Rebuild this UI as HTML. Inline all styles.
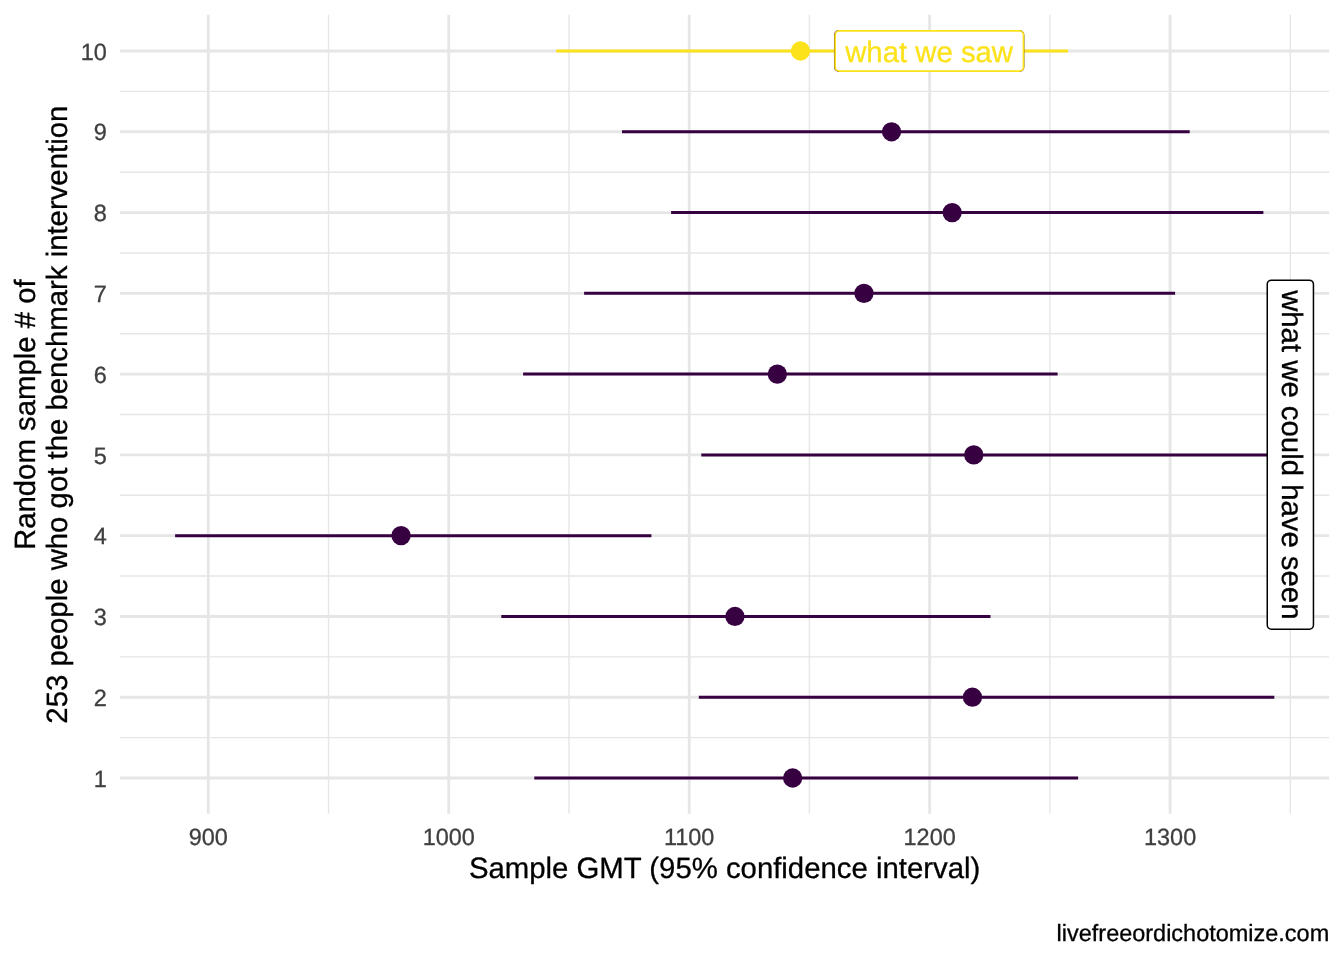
<!DOCTYPE html>
<html lang="en"><head><meta charset="utf-8"><title>Sample GMT</title>
<style>html,body{margin:0;padding:0;background:#fff}svg{display:block}text{font-family:"Liberation Sans",Arial,Helvetica,sans-serif;text-rendering:geometricPrecision}</style></head><body>
<svg width="1344" height="960" viewBox="0 0 1344 960">
<rect width="1344" height="960" fill="#fff"/>
<g stroke="#E6E6E6" fill="none">
<line x1="120.0" x2="1329.2" y1="737.61" y2="737.61" stroke-width="1.42"/>
<line x1="120.0" x2="1329.2" y1="656.84" y2="656.84" stroke-width="1.42"/>
<line x1="120.0" x2="1329.2" y1="576.06" y2="576.06" stroke-width="1.42"/>
<line x1="120.0" x2="1329.2" y1="495.28" y2="495.28" stroke-width="1.42"/>
<line x1="120.0" x2="1329.2" y1="414.50" y2="414.50" stroke-width="1.42"/>
<line x1="120.0" x2="1329.2" y1="333.72" y2="333.72" stroke-width="1.42"/>
<line x1="120.0" x2="1329.2" y1="252.95" y2="252.95" stroke-width="1.42"/>
<line x1="120.0" x2="1329.2" y1="172.17" y2="172.17" stroke-width="1.42"/>
<line x1="120.0" x2="1329.2" y1="91.39" y2="91.39" stroke-width="1.42"/>
<line x1="328.53" x2="328.53" y1="14.8" y2="813.7" stroke-width="1.42"/>
<line x1="568.98" x2="568.98" y1="14.8" y2="813.7" stroke-width="1.42"/>
<line x1="809.42" x2="809.42" y1="14.8" y2="813.7" stroke-width="1.42"/>
<line x1="1049.88" x2="1049.88" y1="14.8" y2="813.7" stroke-width="1.42"/>
<line x1="1290.33" x2="1290.33" y1="14.8" y2="813.7" stroke-width="1.42"/>
<line x1="120.0" x2="1329.2" y1="778.00" y2="778.00" stroke-width="2.85"/>
<line x1="120.0" x2="1329.2" y1="697.22" y2="697.22" stroke-width="2.85"/>
<line x1="120.0" x2="1329.2" y1="616.45" y2="616.45" stroke-width="2.85"/>
<line x1="120.0" x2="1329.2" y1="535.67" y2="535.67" stroke-width="2.85"/>
<line x1="120.0" x2="1329.2" y1="454.89" y2="454.89" stroke-width="2.85"/>
<line x1="120.0" x2="1329.2" y1="374.11" y2="374.11" stroke-width="2.85"/>
<line x1="120.0" x2="1329.2" y1="293.33" y2="293.33" stroke-width="2.85"/>
<line x1="120.0" x2="1329.2" y1="212.56" y2="212.56" stroke-width="2.85"/>
<line x1="120.0" x2="1329.2" y1="131.78" y2="131.78" stroke-width="2.85"/>
<line x1="120.0" x2="1329.2" y1="51.00" y2="51.00" stroke-width="2.85"/>
<line x1="208.30" x2="208.30" y1="14.8" y2="813.7" stroke-width="2.85"/>
<line x1="448.75" x2="448.75" y1="14.8" y2="813.7" stroke-width="2.85"/>
<line x1="689.20" x2="689.20" y1="14.8" y2="813.7" stroke-width="2.85"/>
<line x1="929.65" x2="929.65" y1="14.8" y2="813.7" stroke-width="2.85"/>
<line x1="1170.10" x2="1170.10" y1="14.8" y2="813.7" stroke-width="2.85"/>
</g>
<line x1="534.3" x2="1078.1" y1="778.00" y2="778.00" stroke="#360041" stroke-width="3"/>
<circle cx="792.65" cy="778.00" r="9.65" fill="#360041"/>
<line x1="698.8" x2="1274.3" y1="697.22" y2="697.22" stroke="#360041" stroke-width="3"/>
<circle cx="972.45" cy="697.22" r="9.65" fill="#360041"/>
<line x1="501.3" x2="990.5" y1="616.45" y2="616.45" stroke="#360041" stroke-width="3"/>
<circle cx="734.95" cy="616.45" r="9.65" fill="#360041"/>
<line x1="175.1" x2="651.4" y1="535.67" y2="535.67" stroke="#360041" stroke-width="3"/>
<circle cx="401.05" cy="535.67" r="9.65" fill="#360041"/>
<line x1="701.3" x2="1273.8" y1="454.89" y2="454.89" stroke="#360041" stroke-width="3"/>
<circle cx="973.75" cy="454.89" r="9.65" fill="#360041"/>
<line x1="523.1" x2="1057.6" y1="374.11" y2="374.11" stroke="#360041" stroke-width="3"/>
<circle cx="777.35" cy="374.11" r="9.65" fill="#360041"/>
<line x1="584.1" x2="1175.1" y1="293.33" y2="293.33" stroke="#360041" stroke-width="3"/>
<circle cx="863.95" cy="293.33" r="9.65" fill="#360041"/>
<line x1="671.1" x2="1263.4" y1="212.56" y2="212.56" stroke="#360041" stroke-width="3"/>
<circle cx="952.15" cy="212.56" r="9.65" fill="#360041"/>
<line x1="622.0" x2="1189.7" y1="131.78" y2="131.78" stroke="#360041" stroke-width="3"/>
<circle cx="891.55" cy="131.78" r="9.65" fill="#360041"/>
<line x1="556.3" x2="1067.9" y1="51.00" y2="51.00" stroke="#FCE21B" stroke-width="3"/>
<circle cx="800.45" cy="51.00" r="9.65" fill="#FCE21B"/>
<rect x="834.85" y="30.8" width="188.65" height="40.3" rx="4.2" fill="#fff" stroke="#360041" stroke-width="1.75"/>
<rect x="835.15" y="30.8" width="188.35" height="40.3" rx="4.2" fill="#fff" stroke="#FCE21B" stroke-width="1.75"/>
<text x="929.1" y="61.8" font-size="29.33" fill="#FCE21B" stroke="#FCE21B" stroke-width="0.3" text-anchor="middle">what we saw</text>
<rect x="1267.25" y="280.15" width="46.2" height="349.1" rx="4.2" fill="#fff" stroke="#000" stroke-width="1.5"/>
<text transform="translate(1282.3,454.8) rotate(90)" font-size="29.33" fill="#000" stroke="#000" stroke-width="0.3" text-anchor="middle">what we could have seen</text>
<g font-size="23.47" fill="#3F3F3F" stroke="#3F3F3F" stroke-width="0.3">
<text x="106.9" y="786.70" text-anchor="end">1</text>
<text x="106.9" y="705.92" text-anchor="end">2</text>
<text x="106.9" y="625.15" text-anchor="end">3</text>
<text x="106.9" y="544.37" text-anchor="end">4</text>
<text x="106.9" y="463.59" text-anchor="end">5</text>
<text x="106.9" y="382.81" text-anchor="end">6</text>
<text x="106.9" y="302.03" text-anchor="end">7</text>
<text x="106.9" y="221.26" text-anchor="end">8</text>
<text x="106.9" y="140.48" text-anchor="end">9</text>
<text x="106.9" y="59.70" text-anchor="end">10</text>
<text x="208.30" y="845.2" text-anchor="middle">900</text>
<text x="448.75" y="845.2" text-anchor="middle">1000</text>
<text x="689.20" y="845.2" text-anchor="middle">1100</text>
<text x="929.65" y="845.2" text-anchor="middle">1200</text>
<text x="1170.10" y="845.2" text-anchor="middle">1300</text>
</g>
<text x="724.6" y="877.7" font-size="29.33" fill="#000" stroke="#000" stroke-width="0.3" text-anchor="middle">Sample GMT (95% confidence interval)</text>
<text x="1329.2" y="941.1" font-size="23.47" fill="#000" stroke="#000" stroke-width="0.3" text-anchor="end">livefreeordichotomize.com</text>
<text transform="translate(35.3,414.7) rotate(-90)" font-size="29.33" fill="#000" stroke="#000" stroke-width="0.3" text-anchor="middle">Random sample # of</text>
<text transform="translate(67.0,414.7) rotate(-90)" font-size="29.33" fill="#000" stroke="#000" stroke-width="0.3" text-anchor="middle">253 people who got the benchmark intervention</text>
</svg></body></html>
